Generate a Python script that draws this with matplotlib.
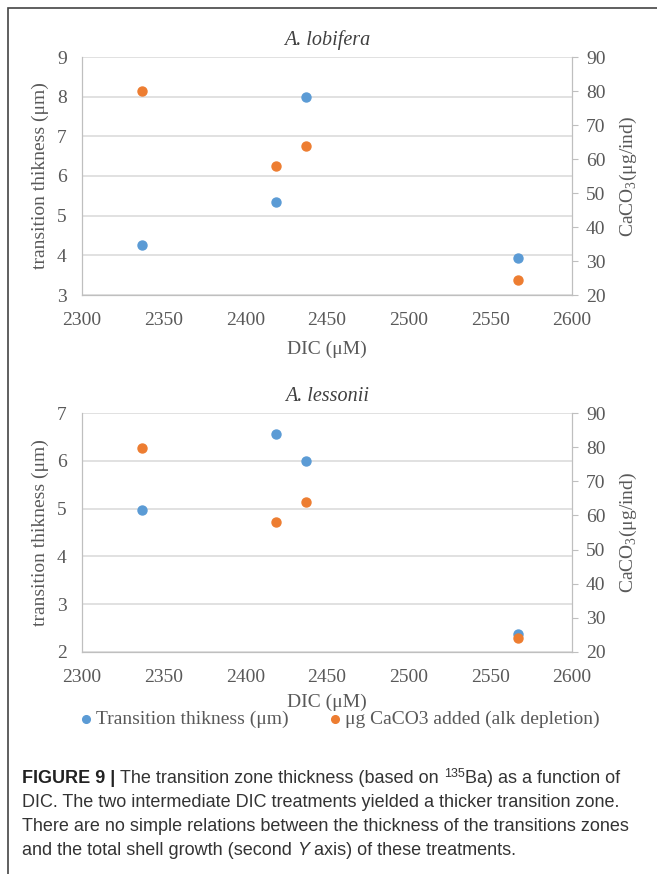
import numpy as np
import matplotlib.pyplot as plt
from matplotlib.patches import Rectangle

plt.rcParams['font.family'] = 'Liberation Serif'
plt.rcParams['mathtext.fontset'] = 'custom'
plt.rcParams['mathtext.rm'] = 'Liberation Serif'

# Données
dic = [2337, 2419, 2437, 2567]
lobifera_thick = [4.26, 5.35, 7.98, 3.93]
lobifera_caco3 = [80.0, 58.0, 63.9, 24.4]
lessonii_thick = [4.97, 6.56, 6.00, 2.37]
lessonii_caco3 = [79.8, 58.0, 63.9, 24.1]

x_ticks = [2300, 2350, 2400, 2450, 2500, 2550, 2600]
lob_yticks = [3, 4, 5, 6, 7, 8, 9]
les_yticks = [2, 3, 4, 5, 6, 7]
caco3_ticks = [20, 30, 40, 50, 60, 70, 80, 90]

blue = '#5B9BD5'
orange = '#ED7D31'
grey = '#d9d9d9'
txt = '#595959'

W, H = 657, 874
fig = plt.figure(figsize=(W / 100, H / 100), dpi=100)

# cadre extérieur
fig.add_artist(Rectangle((8 / W, -0.05), 1.1, 1 - 8 / H + 0.05, transform=fig.transFigure,
                         fill=False, edgecolor='#444444', linewidth=1.2))


def panel(top, bottom, thick, caco3, yticks, title, xlab_off):
    ax = fig.add_axes([82 / W, 1 - bottom / H, 490 / W, (bottom - top) / H])
    ax2 = ax.twinx()
    ax.scatter(dic, thick, s=42, color=blue, zorder=3, label='Transition thikness (μm)')
    ax2.scatter(dic, caco3, s=42, color=orange, zorder=3, label='μg CaCO3 added (alk depletion)')
    ax.set_xlim(2300, 2600)
    ax.set_xticks(x_ticks)
    ax.set_ylim(yticks[0], yticks[-1])
    ax.set_yticks(yticks)
    ax2.set_ylim(20, 90)
    ax2.set_yticks(caco3_ticks)
    ax.grid(axis='y', color=grey, linewidth=1.1)
    ax.set_axisbelow(True)
    for a in (ax, ax2):
        a.spines['top'].set_visible(False)
        for s in ('left', 'right', 'bottom'):
            a.spines[s].set_color('#bfbfbf')
    ax.tick_params(axis='x', length=0, pad=12, labelsize=14, labelcolor=txt)
    ax.tick_params(axis='y', length=0, pad=11, labelsize=14, labelcolor=txt)
    ax2.tick_params(axis='y', length=4, color='#bfbfbf', pad=6, labelsize=14, labelcolor=txt)
    ax.set_xlabel('DIC (μM)', fontsize=14, color=txt)
    ax.set_ylabel('transition thikness (μm)', fontsize=14, color=txt)
    ax2.set_ylabel(r'CaCO$_3$(μg/ind)', fontsize=14, color=txt)
    ax.xaxis.set_label_coords(0.5, -(xlab_off / (bottom - top)))
    ax.yaxis.set_label_coords(-33 / 490, 0.5)
    ax2.yaxis.set_label_coords(1 + 46 / 490, 0.5)
    ax.set_title(title, fontsize=14.5, style='italic', color='#404040', pad=9)
    return ax, ax2


panel(57, 295, lobifera_thick, lobifera_caco3, lob_yticks, 'A. lobifera', 46)
ax, ax2 = panel(413, 652, lessonii_thick, lessonii_caco3, les_yticks, 'A. lessonii', 42)

h1, l1 = ax.get_legend_handles_labels()
h2, l2 = ax2.get_legend_handles_labels()
fig.legend(h1 + h2, l1 + l2, loc='center', bbox_to_anchor=(339 / W, 1 - 719 / H), ncol=2,
           frameon=False, fontsize=14, labelcolor=txt, handletextpad=0.1, handlelength=0.8,
           columnspacing=2.0, markerscale=0.85, borderpad=0)

# légende de la figure (texte composé par morceaux)
renderer = fig.canvas.get_renderer()
cap = dict(family='Liberation Sans', fontsize=13.0, color='#333333', va='baseline')


def run(y_px, parts):
    x = 22 / W
    for s, extra in parts:
        kw = dict(cap)
        kw.update(extra)
        dy = kw.pop('dy', 0)
        t = fig.text(x, 1 - (y_px - dy) / H, s, **kw)
        x += t.get_window_extent(renderer).width / W


run(783, [('FIGURE 9 | ', dict(weight='bold', color='#222222')),
          ('The transition zone thickness (based on ', {}),
          ('135', dict(fontsize=9, dy=6)),
          ('Ba) as a function of', {})])
run(807, [('DIC. The two intermediate DIC treatments yielded a thicker transition zone.', {})])
run(831, [('There are no simple relations between the thickness of the transitions zones', {})])
run(855, [('and the total shell growth (second ', {}),
          ('Y', dict(style='italic')),
          (' axis) of these treatments.', {})])

fig.savefig('out.png', dpi=100)
